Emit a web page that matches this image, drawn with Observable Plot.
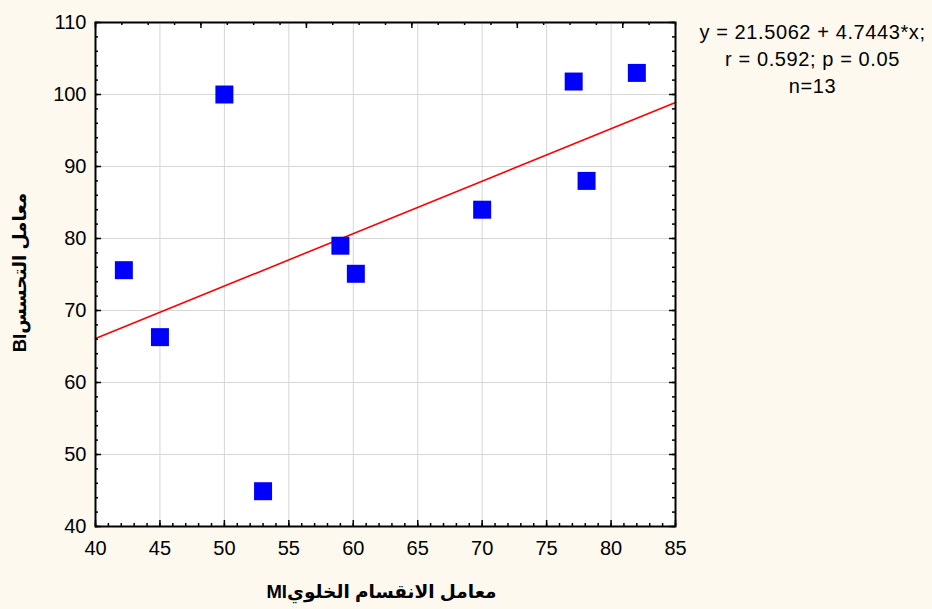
<!DOCTYPE html>
<html>
<head>
<meta charset="utf-8">
<script src="https://cdn.jsdelivr.net/npm/d3@7"></script>
<script src="https://cdn.jsdelivr.net/npm/@observablehq/plot@0.6"></script>
<style>
  html, body { margin: 0; padding: 0; background: #FDF9EE; }
  #chart { width: 932px; height: 609px; }
</style>
</head>
<body>
<div id="chart"></div>
<script>
// ---- data ----
const miValues = [42.2, 45, 50, 53, 59, 60.2, 70, 77.1, 78.1, 82];
const biValues = [75.6, 66.3, 100, 44.9, 79, 75.1, 84, 101.8, 88, 103];
const fitX = [40, 85];
const fitY = [66.1, 98.9];
const xTicks = [40, 45, 50, 55, 60, 65, 70, 75, 80, 85];
const yTicks = [40, 50, 60, 70, 80, 90, 100, 110];
const xTitle = "معامل الانقسام الخلويMI";
const yTitle = "معامل التحسسBI";
const statsLines = ["y = 21.5062 + 4.7443*x;", "r = 0.592; p = 0.05", "n=13"];

const points = miValues.map((x, i) => ({x, y: biValues[i]}));
const fit = fitX.map((x, i) => ({x, y: fitY[i]}));

const W = 932, H = 609;
const mL = 95, mR = 257, mT = 22, mB = 83;
const innerW = W - mL - mR, innerH = H - mT - mB;

const xMinor = d3.range(40, 85.001, 1);
const xMajor = xTicks;
const topMinor = d3.range(0, 23).map(i => 40 + i * 45 / 22);
const topMajor = topMinor.filter((d, i) => i % 4 === 0);
const yMinor = d3.range(40, 110.001, 2);
const yMajor = yTicks;

const font = "'Liberation Sans', Arial, 'DejaVu Sans', sans-serif";

const plot = Plot.plot({
  width: W, height: H,
  marginLeft: mL, marginRight: mR, marginTop: mT, marginBottom: mB,
  style: {background: "transparent", fontFamily: font, fontSize: "20px", color: "#000"},
  x: {domain: [40, 85]},
  y: {domain: [40, 110]},
  marks: [
    Plot.frame({fill: "white", stroke: "none"}),
    Plot.gridX(xTicks, {stroke: "#d6d6d6", strokeOpacity: 1, strokeWidth: 1}),
    Plot.gridY(yTicks, {stroke: "#d6d6d6", strokeOpacity: 1, strokeWidth: 1}),
    Plot.line(fit, {x: "x", y: "y", stroke: "#ff0000", strokeWidth: 1.6}),
    Plot.dot(points, {x: "x", y: "y", symbol: "square", r: 10.15, fill: "#0000ff", stroke: "none"}),
    // inward ticks
    Plot.tickX(xMinor, {x: d => d, insetTop: innerH - 3, stroke: "#000", strokeWidth: 1.5}),
    Plot.tickX(xMajor, {x: d => d, insetTop: innerH - 6, stroke: "#000", strokeWidth: 1.5}),
    Plot.tickX(topMinor, {x: d => d, insetBottom: innerH - 3, stroke: "#000", strokeWidth: 1.5}),
    Plot.tickX(topMajor, {x: d => d, insetBottom: innerH - 6, stroke: "#000", strokeWidth: 1.5}),
    Plot.tickY(yMinor, {y: d => d, insetRight: innerW - 3, stroke: "#000", strokeWidth: 1.5}),
    Plot.tickY(yMajor, {y: d => d, insetRight: innerW - 6, stroke: "#000", strokeWidth: 1.5}),
    Plot.tickY(yMinor, {y: d => d, insetLeft: innerW - 3, stroke: "#000", strokeWidth: 1.5}),
    Plot.tickY(yMajor, {y: d => d, insetLeft: innerW - 6, stroke: "#000", strokeWidth: 1.5}),
    Plot.frame({stroke: "#000", strokeWidth: 2}),
    Plot.axisX(xTicks, {tickSize: 0, tickPadding: 14, label: null, fontSize: 20, fill: "#000"}),
    Plot.axisY(yTicks, {tickSize: 0, tickPadding: 9, label: null, fontSize: 20, fill: "#000"}),
    Plot.text([xTitle], {frameAnchor: "bottom", dx: -4, dy: 66, text: d => d, fontSize: 18.5, fontWeight: "bold", textAnchor: "middle", lineAnchor: "middle", fill: "#000"}),
    Plot.text([yTitle], {frameAnchor: "left", dx: -75, dy: -2, text: d => d, rotate: -90, fontSize: 18.5, fontWeight: "bold", textAnchor: "middle", lineAnchor: "middle", fill: "#000"}),
    Plot.text([statsLines.join("\n")], {frameAnchor: "top-right", dx: 137, dy: -3, text: d => d, fontSize: 20, lineHeight: 1.35, textAnchor: "middle", lineAnchor: "top", fill: "#000"})
  ]
});

// Arabic titles: right-to-left base direction
d3.select(plot).selectAll("text").each(function() {
  if (/[\u0600-\u06FF]/.test(this.textContent)) {
    this.setAttribute("direction", "rtl");
    this.style.direction = "rtl";
    this.style.unicodeBidi = "embed";
  }
});
d3.select(plot).selectAll("text").filter(function() { return /[=;]/.test(this.textContent); })
  .style("letter-spacing", "0.6px");

document.getElementById("chart").appendChild(plot);
</script>
</body>
</html>
